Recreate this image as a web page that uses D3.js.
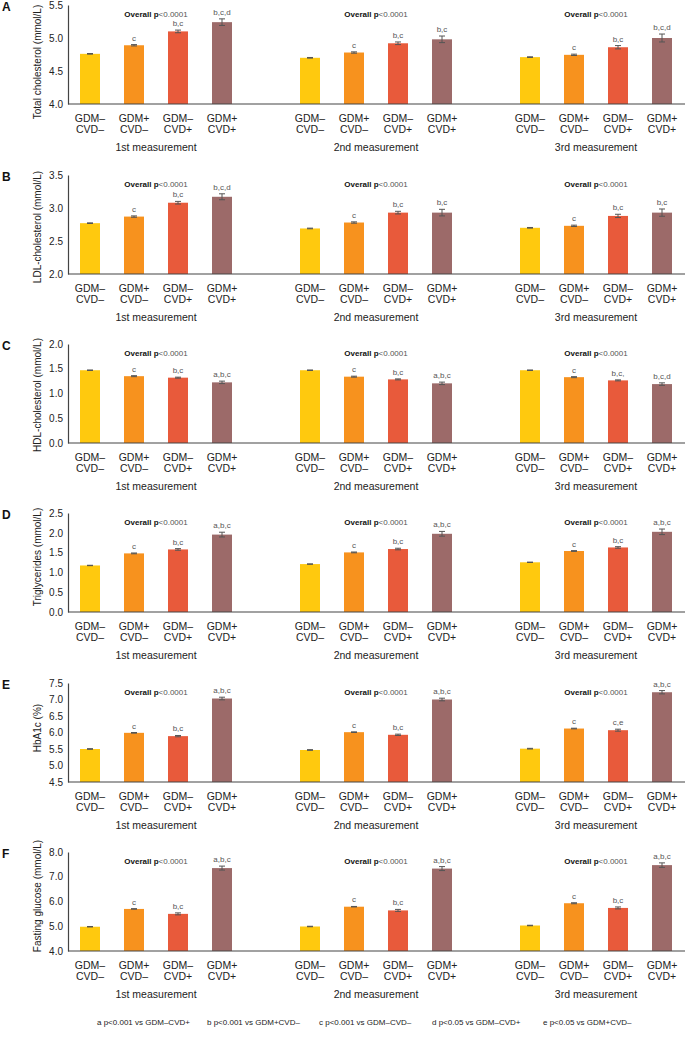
<!DOCTYPE html>
<html>
<head>
<meta charset="utf-8">
<script src="https://cdn.jsdelivr.net/npm/d3@7"></script>
<style>
  html, body { margin: 0; padding: 0; background: #fff; }
  svg { display: block; }
  .narrow { font-family: "Liberation Sans Narrow", "Arial Narrow", "Liberation Sans", Arial, sans-serif; }
  .reg { font-family: "Liberation Sans", Arial, Helvetica, sans-serif; }
</style>
</head>
<body>
<svg id="chart" width="685" height="1037"></svg>
<script>
// ---------- DATA ----------
const groupLine1 = ["GDM\u2013", "GDM+", "GDM\u2013", "GDM+"];
const groupLine2 = ["CVD\u2013", "CVD\u2013", "CVD+", "CVD+"];
const measurements = ["1st measurement", "2nd measurement", "3rd measurement"];
const panelLetters = ["A", "B", "C", "D", "E", "F"];
const yTitles = ["Total cholesterol (mmol/L)", "LDL-cholesterol (mmol/L)", "HDL-cholesterol (mmol/L)",
                 "Triglycerides (mmol/L)", "HbA1c (%)", "Fasting glucose (mmol/L)"];
const yDomains = [[4.0, 5.5], [2.0, 3.5], [0.0, 2.0], [0.0, 2.5], [4.5, 7.5], [4.0, 8.0]];
const yTickValues = [
  [4.0, 4.5, 5.0, 5.5],
  [2.0, 2.5, 3.0, 3.5],
  [0.0, 0.5, 1.0, 1.5, 2.0],
  [0.0, 0.5, 1.0, 1.5, 2.0, 2.5],
  [4.5, 5.0, 5.5, 6.0, 6.5, 7.0, 7.5],
  [4.0, 5.0, 6.0, 7.0, 8.0]
];
const overallLabel = "Overall p<0.0001";

// values[measurement][group]
const totalChol = [[4.76, 4.89, 5.10, 5.24], [4.70, 4.78, 4.92, 4.98], [4.71, 4.745, 4.86, 5.00]];
const totalCholErr = [[0.005, 0.01, 0.02, 0.05], [0.005, 0.01, 0.02, 0.05], [0.005, 0.01, 0.025, 0.06]];
const totalCholSig = [["", "c", "b,c", "b,c,d"], ["", "c", "b,c", "b,c"], ["", "c", "b,c", "b,c,d"]];

const ldlChol = [[2.77, 2.87, 3.08, 3.17], [2.69, 2.78, 2.93, 2.93], [2.70, 2.73, 2.88, 2.93]];
const ldlCholErr = [[0.005, 0.01, 0.02, 0.045], [0.005, 0.01, 0.02, 0.05], [0.005, 0.01, 0.025, 0.055]];
const ldlCholSig = [["", "c", "b,c", "b,c,d"], ["", "c", "b,c", "b,c"], ["", "c", "b,c", "b,c"]];

const hdlChol = [[1.47, 1.35, 1.32, 1.225], [1.47, 1.34, 1.285, 1.205], [1.47, 1.33, 1.265, 1.19]];
const hdlCholErr = [[0.005, 0.01, 0.01, 0.025], [0.005, 0.01, 0.01, 0.025], [0.005, 0.01, 0.01, 0.025]];
const hdlCholSig = [["", "c", "b,c", "a,b,c"], ["", "c", "b,c", "a,b,c"], ["", "c", "b,c,", "b,c,d"]];

const trig = [[1.175, 1.48, 1.58, 1.955], [1.21, 1.505, 1.59, 1.975], [1.255, 1.54, 1.63, 2.025]];
const trigErr = [[0.005, 0.01, 0.02, 0.06], [0.005, 0.01, 0.02, 0.06], [0.005, 0.01, 0.02, 0.07]];
const trigSig = [["", "c", "b,c", "a,b,c"], ["", "c", "b,c", "a,b,c"], ["", "c", "b,c", "a,b,c"]];

const hba1c = [[5.50, 5.99, 5.89, 7.03], [5.47, 6.01, 5.93, 7.00], [5.51, 6.12, 6.07, 7.22]];
const hba1cErr = [[0.01, 0.01, 0.02, 0.04], [0.01, 0.01, 0.02, 0.04], [0.01, 0.01, 0.03, 0.05]];
const hba1cSig = [["", "c", "b,c", "a,b,c"], ["", "c", "b,c", "a,b,c"], ["", "c", "c,e", "a,b,c"]];

const glucose = [[4.98, 5.70, 5.50, 7.35], [4.99, 5.79, 5.64, 7.33], [5.03, 5.93, 5.74, 7.47]];
const glucoseErr = [[0.01, 0.01, 0.04, 0.08], [0.01, 0.01, 0.04, 0.08], [0.01, 0.02, 0.04, 0.09]];
const glucoseSig = [["", "c", "b,c", "a,b,c"], ["", "c", "b,c", "a,b,c"], ["", "c", "b,c", "a,b,c"]];

const legendItems = [
  "a  p<0.001 vs GDM\u2013CVD+",
  "b  p<0.001 vs GDM+CVD\u2013",
  "c  p<0.001 vs GDM\u2013CVD\u2013",
  "d  p<0.05 vs GDM\u2013CVD+",
  "e  p<0.05 vs GDM+CVD\u2013"
];

const barColors = ["#FFC90E", "#F7921E", "#E85A3B", "#9C6A69"];

// ---------- LAYOUT ----------
const panels = [
  { values: totalChol, errs: totalCholErr, sig: totalCholSig },
  { values: ldlChol, errs: ldlCholErr, sig: ldlCholSig },
  { values: hdlChol, errs: hdlCholErr, sig: hdlCholSig },
  { values: trig, errs: trigErr, sig: trigSig },
  { values: hba1c, errs: hba1cErr, sig: hba1cSig },
  { values: glucose, errs: glucoseErr, sig: glucoseSig }
];
const panelTops = [5, 175, 344, 513, 683, 852];
const titleCenters = [62, 227, 395, 557, 728, 896];
const panelH = 99;
const axisLeft = 68, axisRight = 684;

// slots: 4 groups per measurement, with one empty slot between measurements
const slotKeys = [];
measurements.forEach((m, mi) => {
  groupLine1.forEach((g, gi) => slotKeys.push(mi + "-" + gi));
  if (mi < measurements.length - 1) slotKeys.push("gap" + mi);
});
const x = d3.scaleBand().domain(slotKeys).range([axisLeft, axisRight])
  .paddingInner(6 / 11).paddingOuter(3 / 11);

const svg = d3.select("#chart");

panels.forEach((p, pi) => {
  const top = panelTops[pi], base = top + panelH;
  const y = d3.scaleLinear().domain(yDomains[pi]).range([base, top]);
  const g = svg.append("g");

  // panel letter
  g.append("text").attr("class", "reg").attr("x", 2).attr("y", top + 6)
    .attr("font-size", 12).attr("font-weight", "bold").attr("fill", "#111")
    .text(panelLetters[pi]);

  // y axis
  const yAxis = d3.axisLeft(y).tickValues(yTickValues[pi]).tickSize(0).tickPadding(5)
    .tickFormat(d3.format(".1f"));
  const ya = g.append("g").attr("transform", `translate(${axisLeft},0)`).call(yAxis);
  ya.select(".domain").attr("stroke", "#444").attr("stroke-width", 1.2);
  ya.selectAll("text").attr("class", "reg").attr("font-size", 10).attr("fill", "#222");

  // y title
  g.append("text").attr("class", "reg")
    .attr("transform", `translate(${41},${titleCenters[pi]}) rotate(-90)`)
    .attr("text-anchor", "middle").attr("font-size", 10).attr("fill", "#222")
    .text(yTitles[pi]);

  // bars
  p.values.forEach((vals, mi) => {
    vals.forEach((v, gi) => {
      const key = mi + "-" + gi;
      const bx = x(key), bw = x.bandwidth();
      g.append("rect").attr("x", bx).attr("y", y(v)).attr("width", bw)
        .attr("height", base - y(v)).attr("fill", barColors[gi]);
      const e = p.errs[mi][gi];
      const cx = bx + bw / 2;
      const eg = g.append("g").attr("stroke", "#555").attr("stroke-width", 1);
      eg.append("line").attr("x1", cx).attr("x2", cx).attr("y1", y(v - e)).attr("y2", y(v + e));
      eg.append("line").attr("x1", cx - 3).attr("x2", cx + 3).attr("y1", y(v + e)).attr("y2", y(v + e));
      eg.append("line").attr("x1", cx - 3).attr("x2", cx + 3).attr("y1", y(v - e)).attr("y2", y(v - e));
      const s = p.sig[mi][gi];
      if (s) {
        g.append("text").attr("class", "reg").attr("x", cx).attr("y", y(v + e) - 4)
          .attr("text-anchor", "middle").attr("font-size", 8).attr("fill", "#555").text(s);
      }
      // x labels
      g.append("text").attr("class", "narrow").attr("x", cx).attr("y", base + 17.5)
        .attr("text-anchor", "middle").attr("font-size", 10.5).attr("fill", "#222").text(groupLine1[gi]);
      g.append("text").attr("class", "narrow").attr("x", cx).attr("y", base + 29)
        .attr("text-anchor", "middle").attr("font-size", 10.5).attr("fill", "#222").text(groupLine2[gi]);
    });
    const gx0 = x(mi + "-0"), gx1 = x(mi + "-3") + x.bandwidth();
    const gc = (gx0 + gx1) / 2;
    g.append("text").attr("class", "narrow").attr("x", gc).attr("y", base + 46.5)
      .attr("text-anchor", "middle").attr("font-size", 10.5).attr("fill", "#222").text(measurements[mi]);
    // overall p
    const ot = g.append("text").attr("class", "reg").attr("x", gc).attr("y", top + 12)
      .attr("text-anchor", "middle").attr("font-size", 8);
    ot.append("tspan").attr("fill", "#111").attr("font-weight", "bold").text(overallLabel.slice(0, 9));
    ot.append("tspan").attr("fill", "#555").text(overallLabel.slice(9));
  });

  // x baseline
  g.append("line").attr("x1", axisLeft).attr("x2", 685).attr("y1", base).attr("y2", base)
    .attr("stroke", "#444").attr("stroke-width", 1.2);
});

// legend
const legendX = [97, 207, 319, 432, 543];
legendItems.forEach((t, i) => {
  svg.append("text").attr("class", "narrow").attr("x", legendX[i]).attr("y", 1025)
    .attr("font-size", 8).attr("fill", "#222").text(t);
});
</script>
</body>
</html>
